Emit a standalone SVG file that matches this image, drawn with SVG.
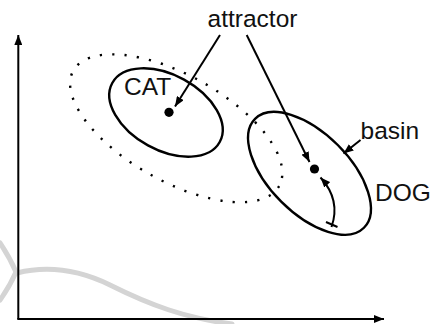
<svg xmlns="http://www.w3.org/2000/svg" width="434" height="324" viewBox="0 0 434 324">
<defs>
<style>
.ln{fill:none;stroke:#000;stroke-width:2}
.ell{fill:none;stroke:#000;stroke-width:2.4}
.dot{fill:#000}
.lbl{font-family:"Liberation Sans",Arial,sans-serif;font-size:24.5px;fill:#111}
.wm{fill:none;stroke:#d4d4d4;stroke-width:5;stroke-linecap:round}
</style>
<marker id="ah" viewBox="0 0 10 8" refX="10" refY="4" markerWidth="10" markerHeight="8" markerUnits="userSpaceOnUse" orient="auto-start-reverse">
<path d="M0,0 L10,4 L0,8 Z" fill="#000"/>
</marker>
<marker id="axh" viewBox="0 0 10 8" refX="10" refY="4" markerWidth="10" markerHeight="8" markerUnits="userSpaceOnUse" orient="auto">
<path d="M0,0 L10,4 L0,8 Z" fill="#000"/>
</marker>
</defs>
<g id="watermark">
<path class="wm" d="M0,243 Q10,258 16,272 Q10,286 0,300"/>
<path class="wm" d="M17,273 C45,266 75,268 110,285 C150,305 185,318 232,324"/>
</g>
<g id="axes">
<line class="ln" x1="18.3" y1="319" x2="18.3" y2="35" marker-end="url(#axh)"/>
<line class="ln" x1="17.3" y1="319" x2="384" y2="319" marker-end="url(#axh)"/>
</g>
<g id="region">
<ellipse cx="176.2" cy="128.3" rx="118" ry="53" transform="rotate(29.3 176.2 128.3)" fill="none" stroke="#000" stroke-width="2.4" stroke-dasharray="2.2 10.2"/>
</g>
<g id="cat">
<ellipse class="ell" cx="166" cy="112.5" rx="61.3" ry="37.5" transform="rotate(28.8 166 112.5)"/>
<circle class="dot" cx="169" cy="112.3" r="4.6"/>
<text class="lbl" x="124" y="95">CAT</text>
</g>
<g id="dog">
<ellipse class="ell" cx="309.5" cy="173.3" rx="77" ry="40" transform="rotate(45 309.5 173.3)"/>
<circle class="dot" cx="314.5" cy="169" r="4.6"/>
<text class="lbl" x="375" y="201">DOG</text>
</g>
<g id="labels">
<text class="lbl" x="252.5" y="26.5" text-anchor="middle">attractor</text>
<text class="lbl" x="360.5" y="138.5">basin</text>
</g>
<g id="connectors">
<line class="ln" x1="220" y1="35" x2="175" y2="106.5" marker-end="url(#ah)"/>
<line class="ln" x1="246.7" y1="35" x2="309.5" y2="162" marker-end="url(#ah)"/>
<line class="ln" x1="360.5" y1="140" x2="343.5" y2="153.5" marker-end="url(#ah)"/>
<path class="ln" d="M320.5,177.5 Q341,200 331.5,227" marker-start="url(#ah)"/>
<line class="ln" x1="326" y1="222" x2="337.5" y2="227"/>
</g>
</svg>
